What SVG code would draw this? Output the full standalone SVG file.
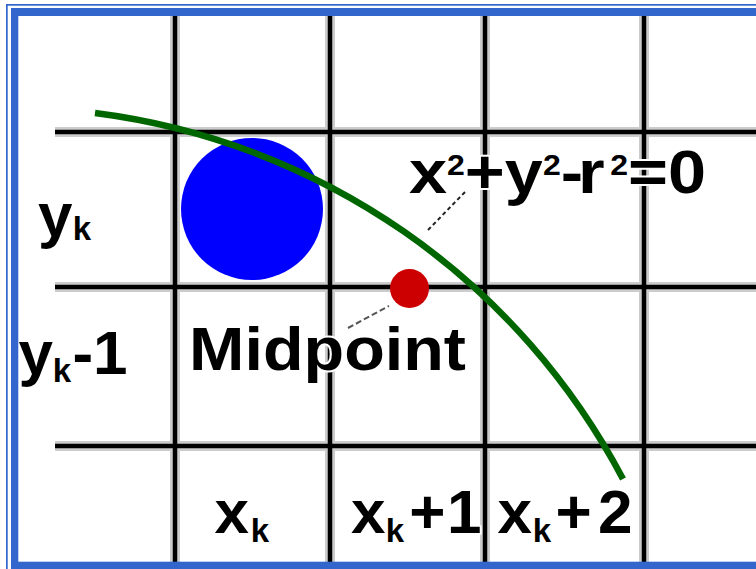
<svg xmlns="http://www.w3.org/2000/svg" width="756" height="569" viewBox="0 0 756 569">
<style>
.halo{stroke:#cccccc;stroke-width:10;fill:none}
.grid{stroke:#000;stroke-width:4.5;fill:none}
.border{fill:#3366cc}
.lbl{font-family:"Liberation Sans",Arial,sans-serif;font-weight:bold;fill:#000;stroke:#fff;stroke-width:4;stroke-linejoin:round;paint-order:stroke}
.big{font-size:62px}
.sub{font-size:33px}
.sup{font-size:29px}
.leader{fill:none;stroke-width:2}
</style>
<rect width="756" height="569" fill="#fff"/>
<g id="grid">
  <g class="halo">
    <line x1="55" y1="132" x2="756" y2="132"/>
    <line x1="55" y1="287" x2="756" y2="287"/>
    <line x1="55" y1="446" x2="756" y2="446"/>
    <line x1="175" y1="16" x2="175" y2="562"/>
    <line x1="330" y1="16" x2="330" y2="562"/>
    <line x1="485" y1="16" x2="485" y2="562"/>
    <line x1="644" y1="16" x2="644" y2="562"/>
  </g>
  <g class="grid">
    <line x1="55" y1="132" x2="756" y2="132"/>
    <line x1="55" y1="287" x2="756" y2="287"/>
    <line x1="55" y1="446" x2="756" y2="446"/>
    <line x1="175" y1="16" x2="175" y2="562"/>
    <line x1="330" y1="16" x2="330" y2="562"/>
    <line x1="485" y1="16" x2="485" y2="562"/>
    <line x1="644" y1="16" x2="644" y2="562"/>
  </g>
</g>
<g id="pixel">
  <circle cx="252" cy="209" r="71" fill="#0000ff"/>
</g>
<g id="curve">
  <path d="M95,113 A696,696 0 0,1 623,479" fill="none" stroke="#006600" stroke-width="6.5"/>
</g>
<g id="midpoint">
  <circle cx="409.5" cy="288.5" r="19.5" fill="#cc0000"/>
</g>
<g id="connectors">
  <line class="leader" x1="465" y1="192" x2="428" y2="230" stroke="#222" stroke-dasharray="4 3"/>
  <line class="leader" x1="348" y1="328" x2="389" y2="306" stroke="#555" stroke-dasharray="6 3"/>
</g>
<g id="label-equation">
  <text class="lbl" x="409" y="193" textLength="297" lengthAdjust="spacingAndGlyphs"><tspan class="big">x</tspan><tspan class="sup" dy="-18">2</tspan><tspan class="big" dy="18">+</tspan><tspan class="big">y</tspan><tspan class="sup" dy="-18">2</tspan><tspan class="big" dy="18">-</tspan><tspan class="big" dx="-5">r</tspan><tspan class="sup" dy="-18" dx="5">2</tspan><tspan class="big" dy="18">=</tspan><tspan class="big">0</tspan></text>
</g>
<g id="label-midpoint">
  <text class="lbl big" x="189" y="370" textLength="277" lengthAdjust="spacingAndGlyphs">Midpoint</text>
</g>
<g id="label-yk">
  <text class="lbl"><tspan class="big" x="38" y="235.5">y</tspan><tspan class="sub" x="72.7" y="240">k</tspan></text>
</g>
<g id="label-yk-1">
  <text class="lbl"><tspan class="big" x="18.5" y="374">y</tspan><tspan class="sub" x="52.7" y="381.7">k</tspan><tspan class="big" x="72.5" y="374">-</tspan><tspan class="big" x="93" y="374">1</tspan></text>
</g>
<g id="label-xk">
  <text class="lbl"><tspan class="big" x="214.5" y="533">x</tspan><tspan class="sub" x="250.7" y="541.7">k</tspan></text>
</g>
<g id="label-xk1">
  <text class="lbl"><tspan class="big" x="351" y="533">x</tspan><tspan class="sub" x="385.7" y="541.7">k</tspan><tspan class="big" x="409.2" y="533">+</tspan><tspan class="big" x="447" y="533">1</tspan></text>
</g>
<g id="label-xk2">
  <text class="lbl"><tspan class="big" x="497.5" y="533">x</tspan><tspan class="sub" x="532.7" y="541.7">k</tspan><tspan class="big" x="555.5" y="533">+</tspan><tspan class="big" x="598" y="533">2</tspan></text>
</g>
<g id="frame">
  <rect class="border" x="6" y="4" width="750" height="1.7"/>
  <rect class="border" x="6" y="4" width="1.7" height="565"/>
  <rect class="border" x="11" y="8" width="745" height="8"/>
  <rect class="border" x="11" y="8" width="7.3" height="561"/>
  <rect class="border" x="11" y="561.7" width="745" height="7.3"/>
</g>
</svg>
